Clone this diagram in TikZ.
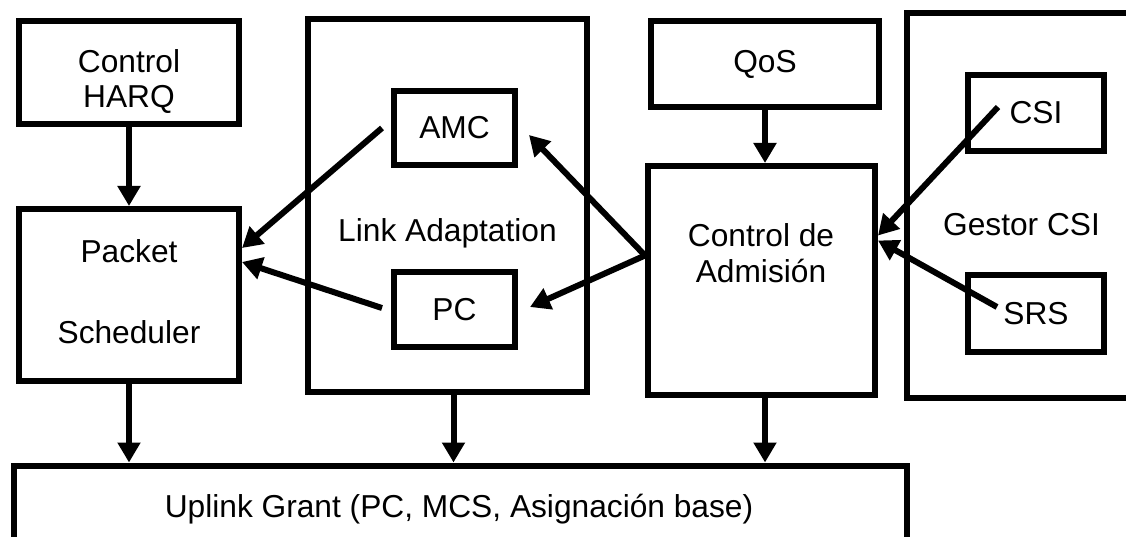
\documentclass[tikz,border=0pt]{standalone}
\usepackage{fontspec}
\setmainfont{Liberation Sans}
\usetikzlibrary{arrows.meta}
\tikzset{
  box/.style={draw=black, line width=6pt, inner sep=0pt, fill=white},
  txt/.style={anchor=base, inner sep=0pt, font=\fontsize{31.7}{38}\selectfont},
  btxt/.style={box, font=\fontsize{31.7}{38}\selectfont},
  arr/.style={draw=black, line width=6pt, -{Triangle[length=20pt,width=22pt]}},
}
\begin{document}
\begin{tikzpicture}[x=1pt,y=-1pt]
\clip (0,0) rectangle (1126,537);
\fill[white] (0,0) rectangle (1126,537);
% containers
\node[box, minimum width=220pt, minimum height=103pt] (harq) at (129,72.5) {};
\node[box, minimum width=220pt, minimum height=172pt] (ps) at (129,295) {};
\node[box, minimum width=279pt, minimum height=373pt] (la) at (447.5,205.5) {};
\node[btxt, minimum width=228pt, minimum height=86pt] (qos) at (765,64) {QoS};
\node[box, minimum width=227pt, minimum height=229pt] (cda) at (761.5,280.5) {};
\node[box, minimum width=300pt, minimum height=385pt] (gcsi) at (1057,205.5) {};
\node[box, minimum width=893pt, minimum height=150pt] (up) at (460.5,540.5) {};
% inner boxes
\node[btxt, minimum width=121pt, minimum height=74pt] (amc) at (454.5,128) {AMC};
\node[btxt, minimum width=121pt, minimum height=75pt] (pc) at (454.5,309.5) {PC};
\node[btxt, minimum width=136pt, minimum height=76pt] (csi) at (1036,113) {CSI};
\node[btxt, minimum width=136pt, minimum height=77pt] (srs) at (1036,313.5) {SRS};
% texts
\node[txt] (t1) at (129,73) {Control};
\node[txt] (t2) at (129,108) {HARQ};
\node[txt] (t3) at (129,262) {Packet};
\node[txt] (t4) at (129,343) {Scheduler};
\node[txt] (t5) at (447.5,241) {Link Adaptation};
\node[txt] (t6) at (761,247) {Control de};
\node[txt] (t7) at (761,282) {Admisión};
\node[txt] (t8) at (1021.5,236) {Gestor CSI};
\node[txt] (t9) at (459,517) {Uplink Grant (PC, MCS, Asignación base)};
% arrows
\draw[arr] (harq.south) -- (ps.north);
\draw[arr] (qos.south) -- (qos.south |- cda.north);
\draw[arr] ([xshift=-9pt]amc.west) -- ([yshift=47pt]ps.east);
\draw[arr] ([xshift=-9pt,yshift=1.5pt]pc.west) -- ([yshift=33pt]ps.east);
\draw[arr] ([yshift=25pt]cda.west) -- ([xshift=11pt,yshift=-7pt]amc.east);
\draw[arr] ([yshift=25pt]cda.west) -- ([xshift=12pt,yshift=2.5pt]pc.east);
\draw[arr] ([xshift=-38pt,yshift=6pt]csi.center) -- ([yshift=45pt]cda.east);
\draw[arr] ([xshift=-39pt,yshift=6.5pt]srs.center) -- ([yshift=40pt]cda.east);
\draw[arr] (ps.south) -- (ps.south |- up.north);
\draw[arr] ([xshift=6pt]la.south) -- ([xshift=6pt]la.south |- up.north);
\draw[arr] ([xshift=3.5pt]cda.south) -- ([xshift=3.5pt]cda.south |- up.north);
\end{tikzpicture}
\end{document}
